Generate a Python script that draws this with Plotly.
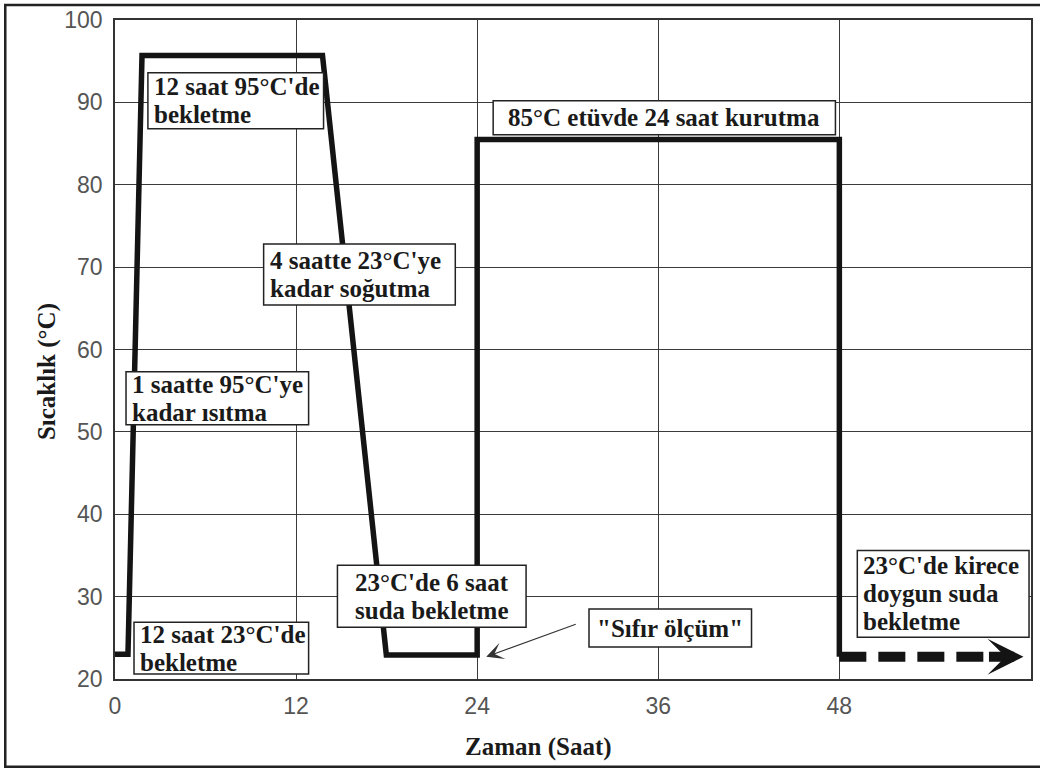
import plotly.graph_objects as go

# ---- data ----
time_h = [0.0, 0.86, 1.79, 13.75, 17.98, 24.0, 24.0, 48.0, 48.0]
temp_c = [23.0, 23.0, 95.7, 95.7, 22.9, 22.9, 85.5, 85.5, 22.7]

cont_time = [48.0, 57.66]          # dashed continuation (kirece doygun su)
cont_temp = [22.7, 22.7]
arrow_tip_time = 60.2
arrow_tip_temp = 22.7

zero_meas_time = 24.6               # "Sıfır ölçüm" point
zero_meas_temp = 22.7

x_ticks = [0, 12, 24, 36, 48]
y_ticks = [20, 30, 40, 50, 60, 70, 80, 90, 100]

x_title = "Zaman (Saat)"
y_title = "Sıcaklık (°C)"

box_lines = [
    ["12 saat 95°C'de", "bekletme"],
    ["4 saatte 23°C'ye", "kadar soğutma"],
    ["1 saatte 95°C'ye", "kadar ısıtma"],
    ["12 saat 23°C'de", "bekletme"],
    ["23°C'de 6 saat", "suda bekletme"],
    ["\"Sıfır ölçüm\""],
    ["85°C etüvde 24 saat kurutma"],
    ["23°C'de kirece", "doygun suda", "bekletme"],
]
# box geometry in data units: (x0, x1, y0, y1, align)
box_geom = [
    (2.18, 13.82, 86.81, 93.6, "left"),
    (9.85, 22.55, 65.39, 72.8, "left"),
    (0.73, 12.83, 50.86, 57.3, "left"),
    (1.26, 12.83, 20.6, 26.9, "left"),
    (14.74, 27.24, 26.29, 33.8, "center"),
    (31.41, 42.18, 23.87, 28.5, "center"),
    (25.06, 47.74, 86.08, 90.2, "center"),
    (49.19, 60.57, 25.08, 35.6, "left"),
]

X_RANGE = [0, 60.7]
Y_RANGE = [20, 100]
PLOT_W = 1040 - 115 - 7
PLOT_H = 769 - 18 - 90
PX_X = PLOT_W / (X_RANGE[1] - X_RANGE[0])
PX_Y = PLOT_H / (Y_RANGE[1] - Y_RANGE[0])
LINE_PX = 28
PAD_PX = 4

SERIF = "Liberation Serif, Times New Roman, serif"
SANS = "Liberation Sans, Arial, sans-serif"
FS = 25
TXT = "#1a1a1a"

fig = go.Figure()
fig.add_trace(go.Scatter(
    x=time_h, y=temp_c, mode="lines",
    line=dict(color="#141414", width=5.5),
    hoverinfo="skip", showlegend=False,
))
fig.add_trace(go.Scatter(
    x=cont_time, y=cont_temp, mode="lines",
    line=dict(color="#141414", width=10, dash="27px,12px"),
    hoverinfo="skip", showlegend=False,
))

shapes = []
annotations = []
for lines, (x0, x1, y0, y1, al) in zip(box_lines, box_geom):
    shapes.append(dict(
        type="rect", xref="x", yref="y", x0=x0, x1=x1, y0=y0, y1=y1,
        line=dict(color="#222222", width=1.5), fillcolor="white", layer="above",
    ))
    n = len(lines)
    yc = (y0 + y1) / 2
    for i, ln in enumerate(lines):
        ty = yc - (i - (n - 1) / 2) * LINE_PX / PX_Y
        if al == "left":
            tx, xa = x0 + PAD_PX / PX_X, "left"
        else:
            tx, xa = (x0 + x1) / 2, "center"
        annotations.append(dict(
            x=tx, y=ty, xref="x", yref="y", xanchor=xa, yanchor="middle",
            text="<b>" + ln + "</b>", showarrow=False,
            font=dict(family=SERIF, size=FS, color=TXT),
        ))

# arrowhead at the end of the dashed continuation
annotations.append(dict(
    x=arrow_tip_time, y=arrow_tip_temp, xref="x", yref="y",
    text="", showarrow=True, ax=-36, ay=0, axref="pixel", ayref="pixel",
    arrowhead=3, arrowsize=0.6, arrowwidth=10, arrowcolor="#141414",
    standoff=0,
))
# "Sıfır ölçüm" pointer
annotations.append(dict(
    x=zero_meas_time, y=zero_meas_temp, xref="x", yref="y",
    text="", showarrow=True, ax=91, ay=-33, axref="pixel", ayref="pixel",
    arrowhead=3, arrowsize=2.4, arrowwidth=1.2, arrowcolor="#333333",
    standoff=0,
))
# axis titles
annotations.append(dict(
    x=0.462, y=-0.103, xref="paper", yref="paper",
    xanchor="center", yanchor="middle", showarrow=False,
    text="<b>" + x_title + "</b>",
    font=dict(family=SERIF, size=FS, color=TXT),
))
annotations.append(dict(
    x=-0.074, y=0.466, xref="paper", yref="paper",
    xanchor="center", yanchor="middle", showarrow=False, textangle=-90,
    text="<b>" + y_title + "</b>",
    font=dict(family=SERIF, size=FS, color=TXT),
))

# outer frame of the picture
shapes.append(dict(
    type="rect", xref="paper", yref="paper",
    x0=-0.1198, x1=1.05, y0=-0.1331, y1=1.0227,
    line=dict(color="#222222", width=2.5), layer="below",
))

fig.update_layout(
    width=1040, height=769,
    margin=dict(l=115, r=7, t=18, b=90),
    paper_bgcolor="white", plot_bgcolor="white",
    annotations=annotations, shapes=shapes,
)
fig.update_xaxes(
    range=X_RANGE, tickvals=x_ticks, ticktext=[str(v) for v in x_ticks],
    showgrid=True, gridcolor="#3a3a3a", gridwidth=1.2,
    showline=True, mirror=True, linecolor="#333333", linewidth=1.5,
    ticks="outside", ticklen=6, tickcolor="rgba(0,0,0,0)",
    tickfont=dict(family=SANS, size=23, color="#555555"),
    zeroline=False, fixedrange=True,
)
fig.update_yaxes(
    range=Y_RANGE, tickvals=y_ticks, ticktext=[str(v) for v in y_ticks],
    showgrid=True, gridcolor="#3a3a3a", gridwidth=1.2,
    showline=True, mirror=True, linecolor="#333333", linewidth=1.5,
    ticks="outside", ticklen=6, tickcolor="rgba(0,0,0,0)",
    tickfont=dict(family=SANS, size=23, color="#555555"),
    zeroline=False, fixedrange=True,
)

fig.write_html("out.html")
